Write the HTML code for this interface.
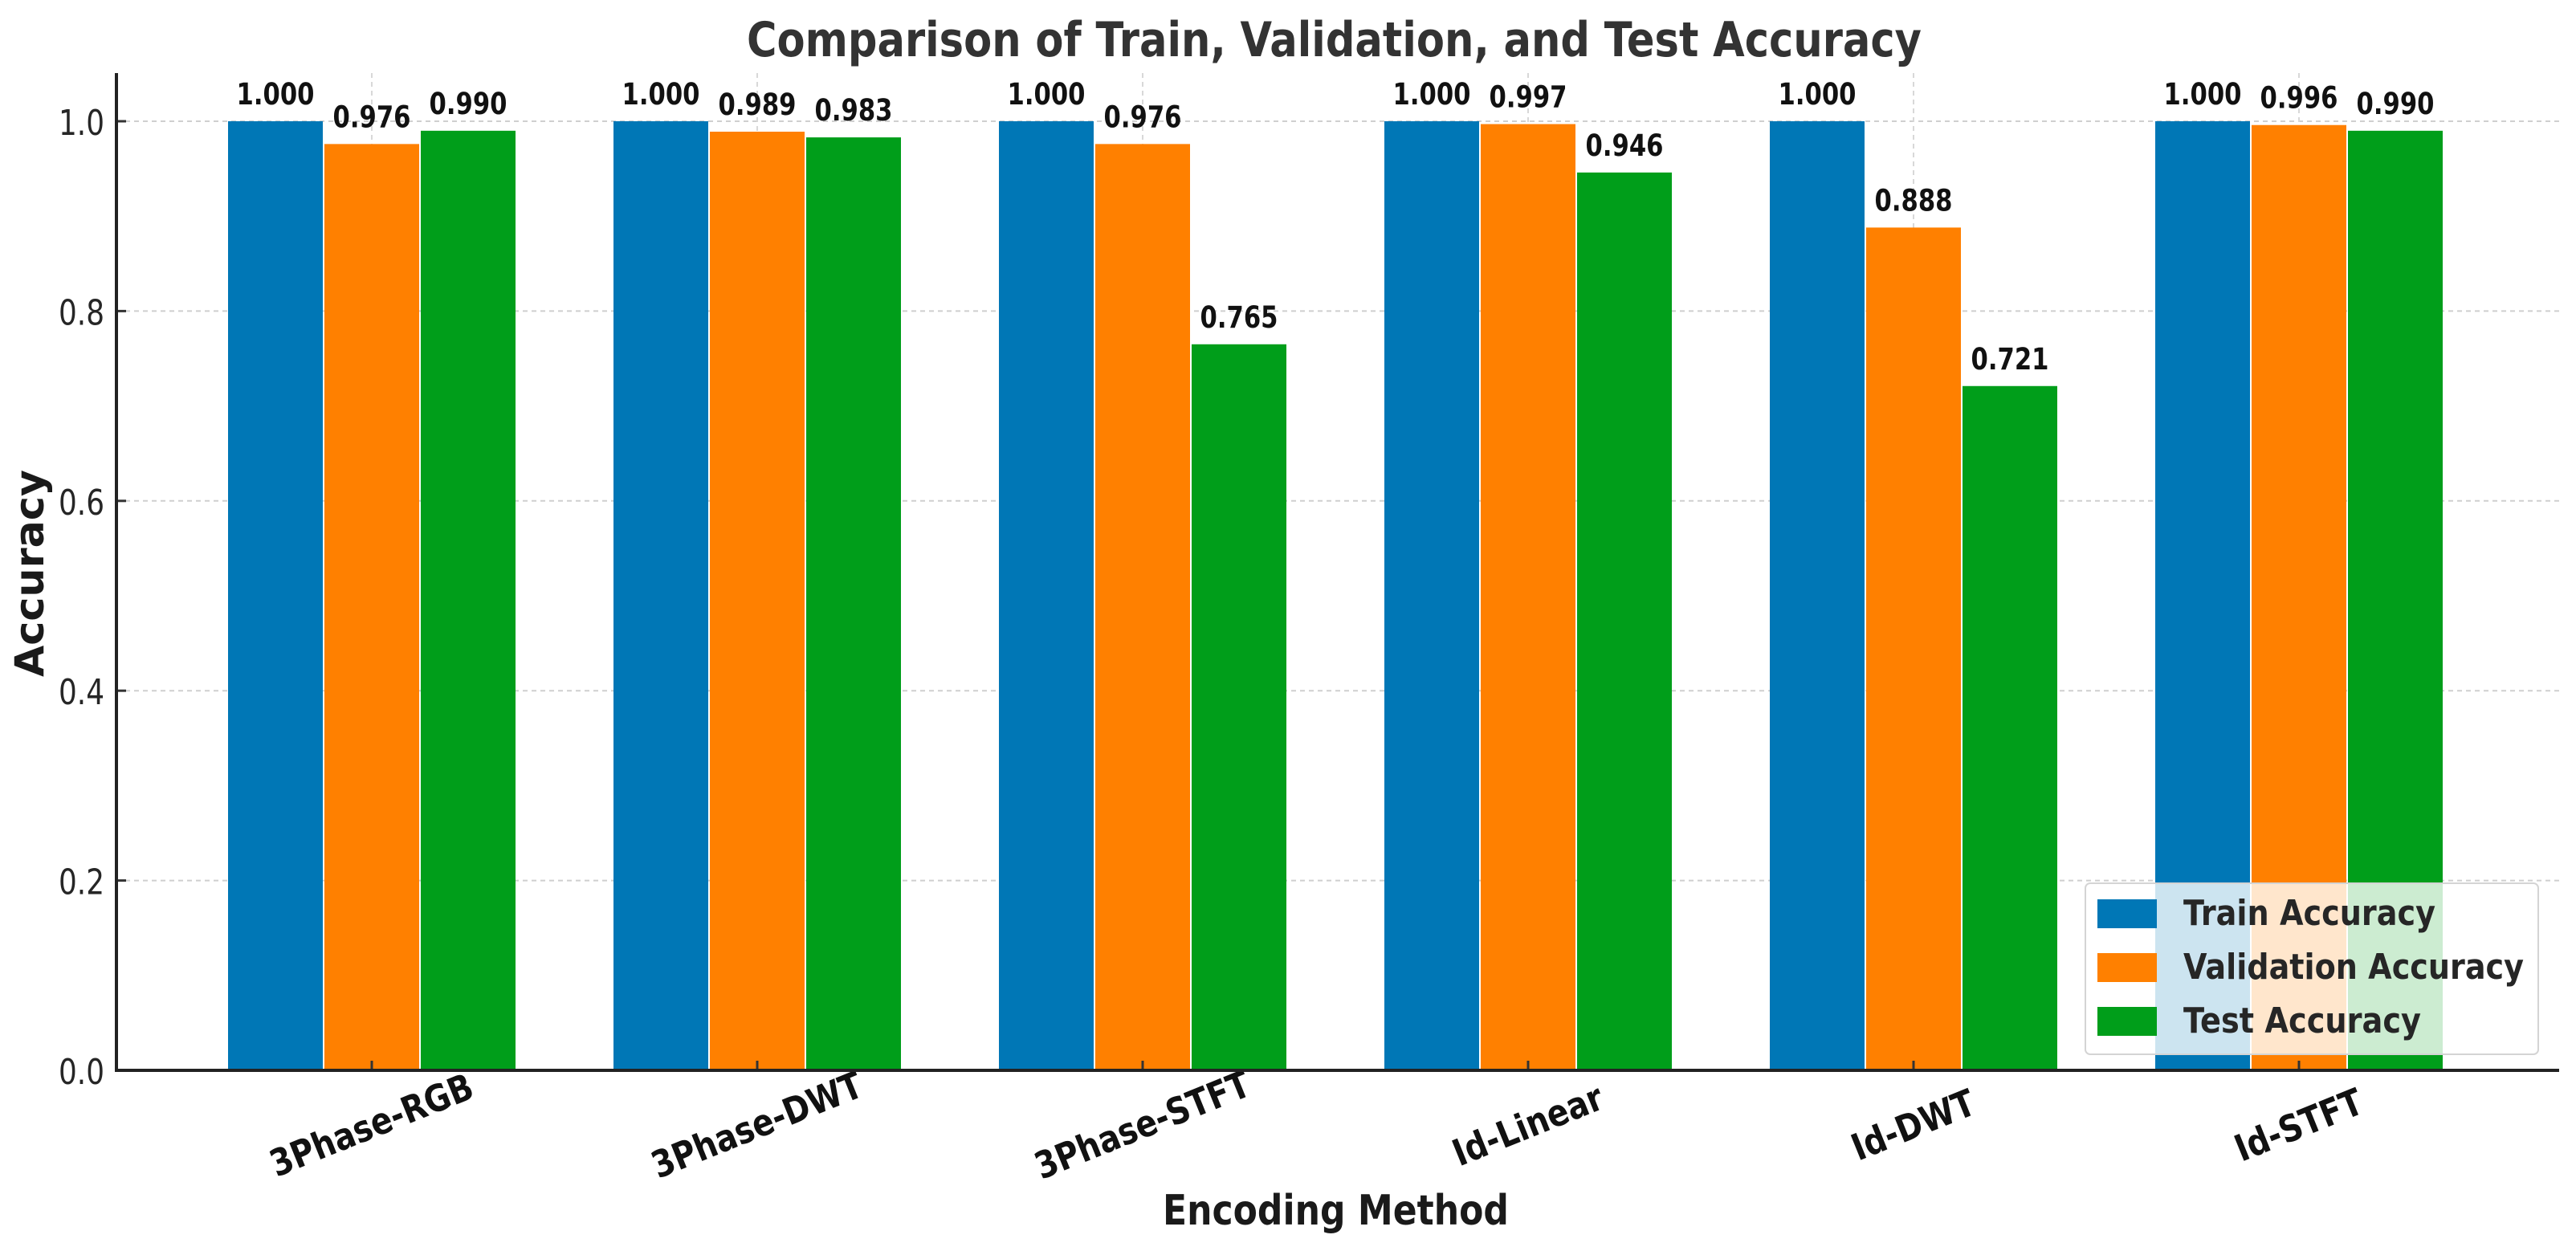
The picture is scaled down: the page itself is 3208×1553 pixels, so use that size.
<!DOCTYPE html>
<html><head><meta charset="utf-8">
<style>
html,body{margin:0;padding:0;background:#fff;}
svg{display:block;}
text{font-family:"DejaVu Sans","Liberation Sans",sans-serif;}
</style></head>
<body>
<svg id="chart" width="3208" height="1553" viewBox="0 0 3208 1553" xmlns="http://www.w3.org/2000/svg">
  <rect width="3208" height="1553" fill="#fff"/>
  <g id="grid"></g>
  <g id="bars"></g>
  <g id="values"></g>
  <g id="axes"></g>
  <text x="930" y="70" font-size="60" font-weight="bold" fill="#333" textLength="1463" lengthAdjust="spacingAndGlyphs">Comparison of Train, Validation, and Test Accuracy</text>
  <text x="1448" y="1525" font-size="52" font-weight="bold" fill="#1a1a1a" textLength="431" lengthAdjust="spacingAndGlyphs">Encoding Method</text>
  <text transform="translate(54,843) rotate(-90)" x="0" y="0" font-size="50" font-weight="bold" fill="#1a1a1a" textLength="258" lengthAdjust="spacingAndGlyphs">Accuracy</text>
  <g id="legend"></g>
</svg>
<script>
const categories = ["3Phase-RGB","3Phase-DWT","3Phase-STFT","Id-Linear","Id-DWT","Id-STFT"];
const trainAcc = [1.000,1.000,1.000,1.000,1.000,1.000];
const valAcc = [0.976,0.989,0.976,0.997,0.888,0.996];
const testAcc = [0.990,0.983,0.765,0.946,0.721,0.990];
const yTicks = [0.0,0.2,0.4,0.6,0.8,1.0];
const yTickLabels = ["0.0","0.2","0.4","0.6","0.8","1.0"];
const seriesNames = ["Train Accuracy","Validation Accuracy","Test Accuracy"];

const NS = "http://www.w3.org/2000/svg";
const colors = ["#0077B6","#FF8000","#009E1A"];
const series = [trainAcc, valAcc, testAcc];
const X0 = 145, XEND = 3187, Y0 = 1333, YPER = 1182, YTOP = 91;
const groupStart = 463, groupStep = 480, barStep = 120, barW = 118;
function xScale(i){ return groupStart + i*groupStep; }
function yScale(v){ return Y0 - v*YPER; }
function mk(tag, attrs, parent){
  const e = document.createElementNS(NS, tag);
  for (const k in attrs) e.setAttribute(k, attrs[k]);
  parent.appendChild(e); return e;
}
const grid = document.getElementById('grid');
const bars = document.getElementById('bars');
const vals = document.getElementById('values');
const axes = document.getElementById('axes');
const legend = document.getElementById('legend');

yTicks.forEach((t, i) => {
  const y = yScale(t);
  const gl = mk('line', {x1:X0, x2:XEND, y1:y, y2:y, stroke:'#cfcfcf', 'stroke-width':2, 'stroke-dasharray':'6,5'}, grid);
  
  
  const tk = mk('line', {x1:X0, x2:X0+12, y1:y, y2:y, stroke:'#333', 'stroke-width':3}, axes);
  
  
  const lb = mk('text', {x:73, y:y+17, 'font-size':44, fill:'#262626', textLength:57, lengthAdjust:'spacingAndGlyphs'}, axes);
  lb.textContent = yTickLabels[i];
  
  
});
categories.forEach((c, i) => {
  const cx = xScale(i);
  const gl = mk('line', {x1:cx, x2:cx, y1:YTOP, y2:Y0, stroke:'#d8d8d8', 'stroke-width':2, 'stroke-dasharray':'6,5'}, grid);
  
  
  series.forEach((s, k) => {
    const bx = cx + (k-1)*barStep - barW/2;
    const y = yScale(s[i]);
    const r = mk('rect', {x:bx, y:y, width:barW, height:Y0-y, fill:colors[k]}, bars);
    
    
    const t = mk('text', {x:bx+barW/2, y:y-21, 'font-size':37, 'font-weight':'bold', fill:'#111', 'text-anchor':'middle', textLength:97, lengthAdjust:'spacingAndGlyphs'}, vals);
    t.textContent = s[i].toFixed(3);
    
    
  });
  const tk = mk('line', {x1:cx, x2:cx, y1:Y0-12, y2:Y0, stroke:'#333', 'stroke-width':3}, axes);
  
  
  const lb = mk('text', {x:0, y:15, 'font-size':46, 'font-weight':'bold', fill:'#111', 'text-anchor':'middle', transform:'translate(' + cx + ',1402) rotate(-22) scale(0.85,1)'}, axes);
  lb.textContent = c;
  
  
});
const ya = mk('line', {x1:X0, x2:X0, y1:YTOP, y2:Y0+2, stroke:'#222', 'stroke-width':4}, axes);


const xa = mk('line', {x1:X0-2, x2:XEND, y1:Y0, y2:Y0, stroke:'#222', 'stroke-width':4}, axes);



const box = mk('rect', {x:2597, y:1100, width:564, height:213, rx:6, fill:'rgba(255,255,255,0.8)', stroke:'#d4d4d4', 'stroke-width':2}, legend);


const legLens = [314, 424, 296];
seriesNames.forEach((n, k) => {
  const cy = 1138 + k*67;
  const p = mk('rect', {x:2612, y:cy-18, width:74, height:36, fill:colors[k]}, legend);
  
  
  const t = mk('text', {x:2719, y:cy+14, 'font-size':44, 'font-weight':'bold', fill:'#262626', textLength:legLens[k], lengthAdjust:'spacingAndGlyphs'}, legend);
  t.textContent = n;
  
  
});
</script>
</body></html>
